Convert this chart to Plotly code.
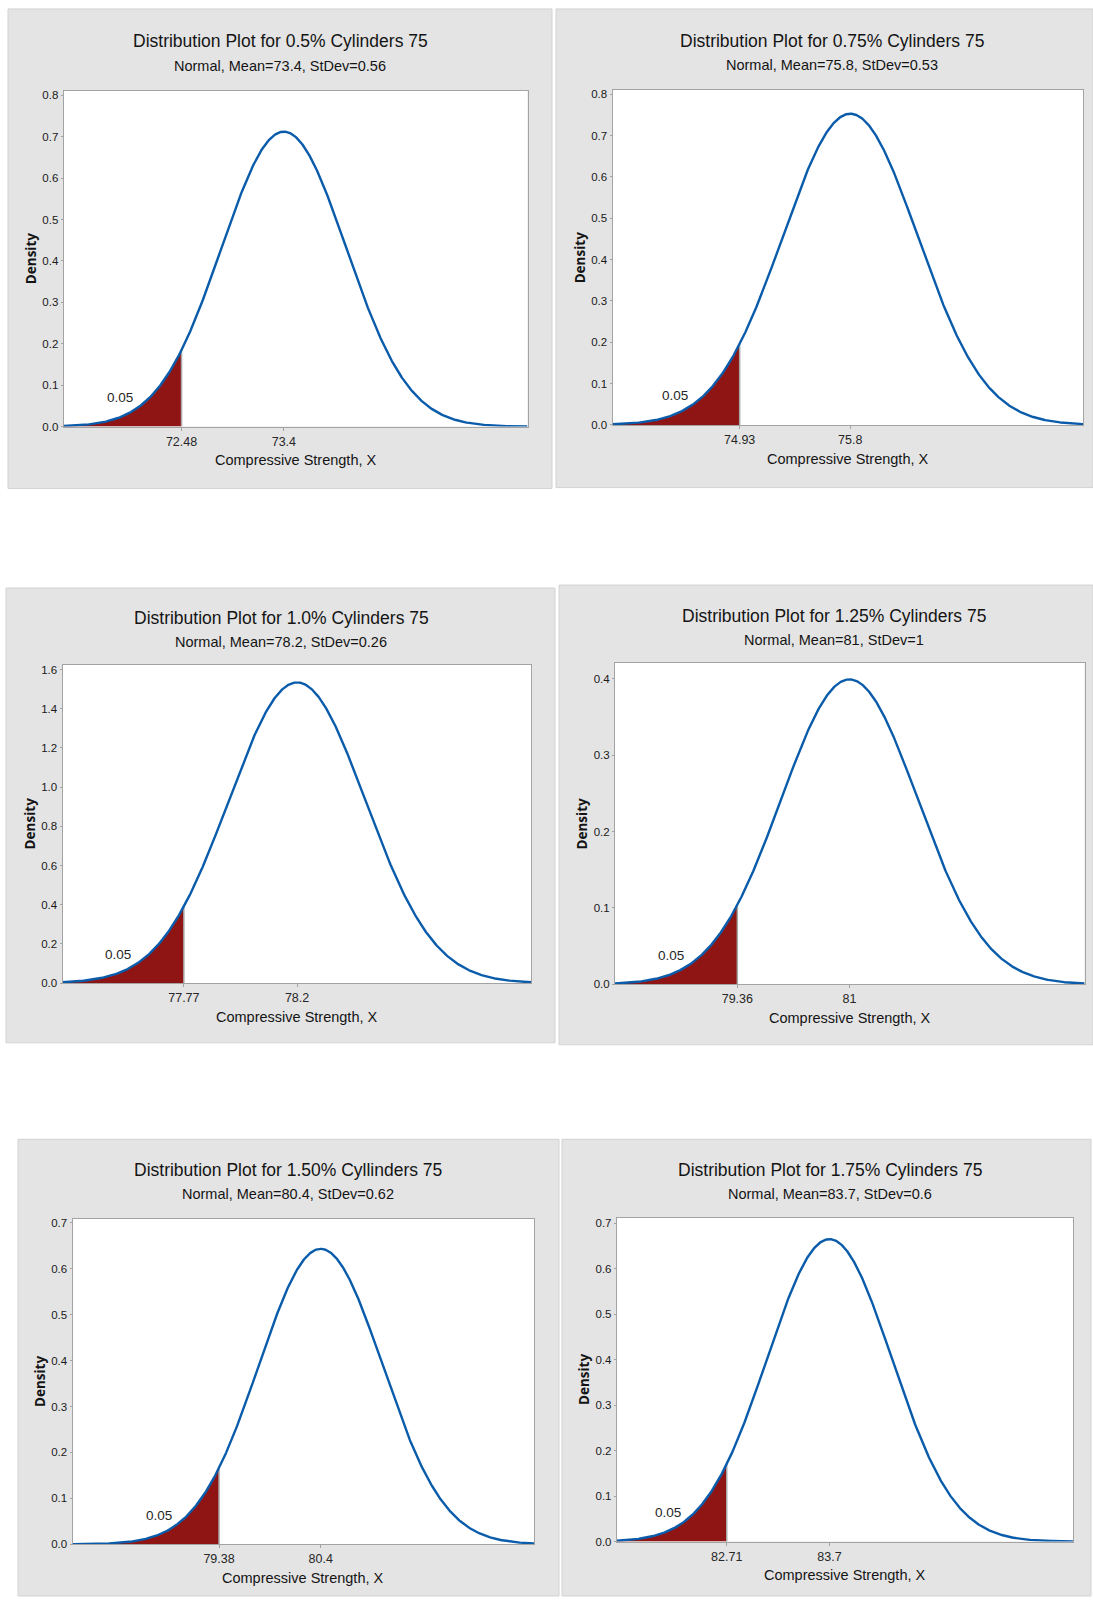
import numpy as np
import plotly.graph_objects as go

# ---- distribution parameters for each cylinder batch ----
titles = [
    "Distribution Plot for 0.5% Cylinders 75",
    "Distribution Plot for 0.75% Cylinders 75",
    "Distribution Plot for 1.0% Cylinders 75",
    "Distribution Plot for 1.25% Cylinders 75",
    "Distribution Plot for 1.50% Cyllinders 75",
    "Distribution Plot for 1.75% Cylinders 75",
]
means = [73.4, 75.8, 78.2, 81, 80.4, 83.7]
stdevs = [0.56, 0.53, 0.26, 1, 0.62, 0.6]
cutoffs = [72.48, 74.93, 77.77, 79.36, 79.38, 82.71]
mean_labels = ["73.4", "75.8", "78.2", "81", "80.4", "83.7"]
cutoff_labels = ["72.48", "74.93", "77.77", "79.36", "79.38", "82.71"]
tail_area = "0.05"

# axis extents
x_ranges = [(71.42, 75.59), (73.93, 77.63), (77.309, 79.09),
            (77.57, 84.44), (77.91, 82.54), (81.65, 86.05)]
y_tops = [0.811, 0.8105, 1.625, 0.4208, 0.7087, 0.7124]
y_steps = [0.1, 0.1, 0.2, 0.1, 0.1, 0.1]
y_tick_max = [0.8, 0.8, 1.6, 0.4, 0.7, 0.7]

# ---- page geometry (pixels) ----
W, H = 1093, 1602
panel_boxes = [(8, 7, 552, 489), (556, 7, 1093, 488), (6, 589, 555, 1046),
               (559, 586, 1093, 1048), (18, 1143, 559, 1602), (562, 1143, 1091, 1602)]
plot_boxes = [(63.6, 89.3, 527.5, 426.7), (612.5, 88.3, 1083, 425),
              (62.5, 666, 531.4, 986), (615, 664, 1084.6, 987.3),
              (72.5, 1223, 534, 1550), (616.8, 1221.7, 1073.2, 1547.3)]
title_pos = [(280, 39, 64), (832, 39, 63.5), (281, 619, 643),
             (834, 617, 641), (288, 1174, 1198), (830, 1174, 1198)]
density_x = [30.5, 580, 29.5, 582, 39.5, 583.5]
tail_label_pos = [(71.93, 0.070), (74.42, 0.0707), (77.52, 0.144),
                  (78.39, 0.0377), (78.78, 0.0636), (82.14, 0.0636)]

FONT = "Liberation Sans, Arial, sans-serif"
LINE_BLUE = "#0a5cab"
TAIL_RED = "#8f1414"
PANEL_GRAY = "#e4e4e4"
FRAME_GRAY = "#a3a3a3"
TEXT = "#141414"


def fx(px):
    return px / W


def fy(py):
    return 1 - py / H


def pdf(x, m, s):
    return np.exp(-0.5 * ((x - m) / s) ** 2) / (s * np.sqrt(2 * np.pi))


fig = go.Figure()
shapes = []
annotations = []
layout_axes = {}

for i in range(6):
    n = i + 1
    xa = "x" if n == 1 else f"x{n}"
    ya = "y" if n == 1 else f"y{n}"
    m, s, c = means[i], stdevs[i], cutoffs[i]
    x0, x1 = x_ranges[i]
    px0, py0, px1, py1 = plot_boxes[i]

    # gray panel with a white data area on top of it
    bx0, by0, bx1, by1 = panel_boxes[i]
    shapes.append(dict(type="rect", xref="paper", yref="paper",
                       x0=fx(bx0), x1=fx(bx1), y0=fy(by1), y1=fy(by0),
                       fillcolor=PANEL_GRAY, line=dict(color="#d2d2d2", width=1),
                       layer="below"))
    shapes.append(dict(type="rect", xref="paper", yref="paper",
                       x0=fx(px0), x1=fx(px1), y0=fy(py1), y1=fy(py0),
                       fillcolor="white", line=dict(width=0), layer="below"))

    # shaded lower tail
    xt = np.linspace(x0, c, 300)
    fig.add_trace(go.Scatter(
        x=np.concatenate([xt, [c, x0]]),
        y=np.concatenate([pdf(xt, m, s), [0, 0]]),
        fill="toself", fillcolor=TAIL_RED, mode="lines",
        line=dict(width=0), xaxis=xa, yaxis=ya,
        showlegend=False, hoverinfo="skip"))
    # edge of the shaded region
    fig.add_trace(go.Scatter(
        x=[c, c], y=[0, pdf(c, m, s)], mode="lines",
        line=dict(color="#a8a8a8", width=1.5), xaxis=xa, yaxis=ya,
        showlegend=False, hoverinfo="skip"))

    # density curve
    xc = np.linspace(x0, x1, 800)
    fig.add_trace(go.Scatter(
        x=xc, y=pdf(xc, m, s), mode="lines",
        line=dict(color=LINE_BLUE, width=2.4),
        xaxis=xa, yaxis=ya, showlegend=False))

    nticks = int(round(y_tick_max[i] / y_steps[i]))
    yvals = [round(k * y_steps[i], 2) for k in range(nticks + 1)]
    layout_axes["xaxis" if n == 1 else f"xaxis{n}"] = dict(
        domain=[fx(px0), fx(px1)], anchor=ya, range=[x0, x1],
        tickmode="array", tickvals=[c, m], ticktext=[cutoff_labels[i], mean_labels[i]],
        ticks="outside", ticklen=3, tickcolor=FRAME_GRAY,
        showgrid=False, zeroline=False, showline=True, mirror=True,
        linecolor=FRAME_GRAY, linewidth=1,
        tickfont=dict(family=FONT, size=12.5, color="#262626"))
    layout_axes["yaxis" if n == 1 else f"yaxis{n}"] = dict(
        domain=[fy(py1), fy(py0)], anchor=xa, range=[0, y_tops[i]],
        tickmode="array", tickvals=yvals, ticktext=[f"{v:.1f}" for v in yvals],
        ticks="outside", ticklen=2, tickcolor=FRAME_GRAY,
        showgrid=False, zeroline=False, showline=True, mirror=True,
        linecolor=FRAME_GRAY, linewidth=1,
        tickfont=dict(family=FONT, size=11.5, color="#1a1a1a"))

    # titles
    tx, ty, sy = title_pos[i]
    annotations.append(dict(text=titles[i], xref="paper", yref="paper",
                            x=fx(tx), y=fy(ty), showarrow=False,
                            xanchor="center", yanchor="middle",
                            font=dict(family=FONT, size=17.5, color=TEXT)))
    annotations.append(dict(text=f"Normal, Mean={mean_labels[i]}, StDev={stdevs[i]:g}",
                            xref="paper", yref="paper",
                            x=fx(tx), y=fy(sy), showarrow=False,
                            xanchor="center", yanchor="middle",
                            font=dict(family=FONT, size=14.5, color=TEXT)))
    # axis titles
    annotations.append(dict(text="Compressive Strength, X", xref="paper", yref="paper",
                            x=fx((px0 + px1) / 2), y=fy(py1 + 34), showarrow=False,
                            xanchor="center", yanchor="middle",
                            font=dict(family=FONT, size=14.5, color=TEXT)))
    annotations.append(dict(text="<b>Density</b>", xref="paper", yref="paper",
                            x=fx(density_x[i]), y=fy((py0 + py1) / 2), showarrow=False,
                            textangle=-90, xanchor="center", yanchor="middle",
                            font=dict(family="Open Sans, sans-serif", size=13.5, color=TEXT)))
    # tail probability label
    lx, ly = tail_label_pos[i]
    annotations.append(dict(text=tail_area, xref=xa, yref=ya, x=lx, y=ly,
                            showarrow=False, xanchor="center", yanchor="middle",
                            font=dict(family=FONT, size=13.5, color="#262626")))

fig.update_layout(
    width=W, height=H, margin=dict(l=0, r=0, t=0, b=0),
    paper_bgcolor="white", plot_bgcolor="white",
    shapes=shapes, annotations=annotations, showlegend=False,
    **layout_axes)

fig.write_html("out.html")
